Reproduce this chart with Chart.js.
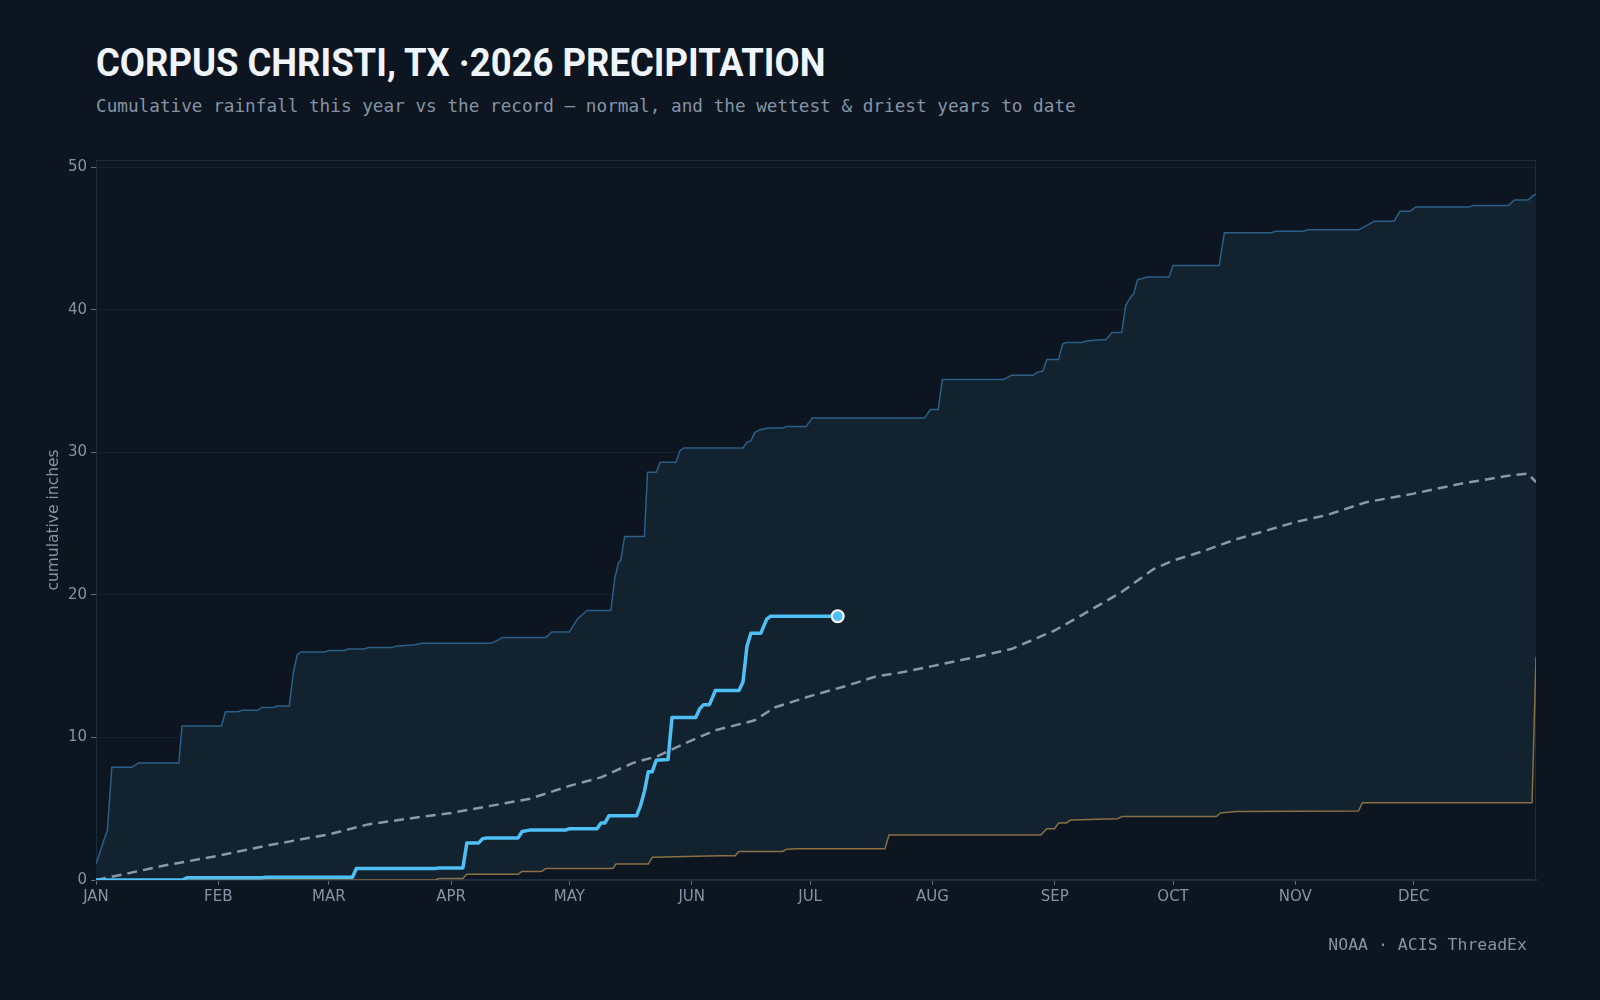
<!DOCTYPE html>
<html>
<head>
<meta charset="utf-8">
<title>Corpus Christi, TX 2026 precipitation</title>
<script src="https://cdn.jsdelivr.net/npm/chart.js@4"></script>
<style>
	body { margin: 0; background: #0c1520; }
	#wrap { position: relative; width: 1600px; height: 1000px; overflow: hidden; }
	#chart { position: absolute; left: 0; top: 0; }
	.title {
		position: absolute; left: 96px; top: 44px; margin: 0;
		font: 700 38px/38px Roboto, sans-serif; color: #eef4fa;
		white-space: nowrap; transform: scaleX(0.96); transform-origin: left top;
	}
	.subtitle {
		position: absolute; left: 96px; top: 98px; margin: 0;
		font: 17.7px/17.7px "DejaVu Sans Mono", monospace; color: #8494a6;
		white-space: nowrap;
	}
	.source {
		position: absolute; right: 73px; top: 937px;
		font: 16.5px/16.5px "DejaVu Sans Mono", monospace; color: #8494a6;
		white-space: nowrap;
	}
</style>
</head>
<body>
<div id="wrap">
	<h1 class="title">CORPUS CHRISTI, TX ·2026 PRECIPITATION</h1>
	<p class="subtitle">Cumulative rainfall this year vs the record — normal, and the wettest &amp; driest years to date</p>
	<canvas id="chart" width="1600" height="1000"></canvas>
	<div class="source">NOAA · ACIS ThreadEx</div>
</div>
<script>
// day of year (0 = Jan 1) and cumulative inches
const MONTHS = ["JAN", "FEB", "MAR", "APR", "MAY", "JUN", "JUL", "AUG", "SEP", "OCT", "NOV", "DEC"];
const MONTH_START = [0, 31, 59, 90, 120, 151, 181, 212, 243, 273, 304, 334];

// wettest year to date, per day
const WET_DAY = [0, 2, 2.9, 3.3, 4, 9, 10.7, 21, 21.8, 31.8, 32.8, 36, 37, 41, 42, 45, 46, 49, 50, 51, 52,
	58, 59, 63, 64, 68, 69, 75, 76, 81, 82.5, 100, 101, 103, 114, 115.5, 120, 122, 124.5, 130.5, 131.5,
	132.5, 133, 134, 139, 139.8, 142, 143, 147, 148, 149, 164, 165, 166, 167, 168.5, 170.5, 174, 175, 180,
	181.5, 210, 211.5, 213.5, 214.5, 230, 232, 237.5, 238.5, 240, 241, 244, 245, 246, 250, 251, 254.5, 256,
	257.5, 260, 261, 262.3, 263, 264, 266.5, 272, 273, 284.7, 286, 298, 299, 306, 307, 320, 322, 324, 329,
	330.5, 333, 334.5, 348, 349, 358, 359.5, 363, 364.3, 365];
const WET_IN = [1.1, 2.8, 3.5, 5.1, 7.9, 7.9, 8.2, 8.2, 10.8, 10.8, 11.8, 11.8, 11.9, 11.9, 12.1, 12.1, 12.2, 12.2, 14.5, 15.8, 16.0,
	16.0, 16.1, 16.1, 16.2, 16.2, 16.3, 16.3, 16.4, 16.5, 16.6, 16.6, 16.7, 17.0, 17.0, 17.4, 17.4, 18.3, 18.9, 18.9, 21.2,
	22.3, 22.4, 24.1, 24.1, 28.6, 28.6, 29.3, 29.3, 30.1, 30.3, 30.3, 30.7, 30.8, 31.4, 31.6, 31.7, 31.7, 31.8, 31.8,
	32.4, 32.4, 33.0, 33.0, 35.1, 35.1, 35.4, 35.4, 35.6, 35.7, 36.5, 36.5, 37.6, 37.7, 37.7, 37.8, 37.9, 37.9,
	38.4, 38.4, 40.3, 40.9, 41.1, 42.1, 42.3, 42.3, 43.1, 43.1, 45.4, 45.4, 45.5, 45.5, 45.6, 45.6, 45.9, 46.2, 46.2,
	46.9, 46.9, 47.2, 47.2, 47.3, 47.3, 47.7, 47.7, 48.0, 48.1];

// driest year to date
const DRY_DAY = [0, 86, 87, 93, 94, 107, 108, 113, 114, 131, 131.8, 140, 141, 158, 162, 163, 174, 175, 177.5,
	200, 201, 239.5, 241, 243, 244, 246, 247, 259, 260, 284, 285, 289, 320, 321, 364, 365];
const DRY_IN = [0, 0, 0.1, 0.1, 0.4, 0.4, 0.6, 0.6, 0.8, 0.8, 1.12, 1.12, 1.6, 1.7, 1.7, 2.0, 2.0, 2.15, 2.2,
	2.2, 3.15, 3.15, 3.6, 3.6, 4.0, 4.0, 4.2, 4.3, 4.45, 4.45, 4.7, 4.8, 4.84, 5.42, 5.42, 15.66];

// normal
const NORM_DAY = [0, 7, 17, 31, 43, 59, 69, 79, 90, 100, 110, 120, 128, 136, 142.5, 151, 157, 167, 172, 181,
	190, 198, 203, 212, 224, 232, 243, 250, 260, 268, 273, 281, 289, 304, 312, 322, 334, 346, 359, 363, 365];
const NORM_IN = [0, 0.4, 1.0, 1.7, 2.4, 3.2, 3.9, 4.3, 4.7, 5.2, 5.7, 6.6, 7.2, 8.2, 8.7, 9.8, 10.5, 11.2, 12.1, 12.9,
	13.6, 14.3, 14.5, 15.0, 15.7, 16.2, 17.5, 18.6, 20.2, 21.8, 22.4, 23.1, 23.9, 25.1, 25.6, 26.5, 27.1, 27.8, 28.4, 28.5, 27.9];

// 2026 so far
const CUR_DAY = [0, 22, 23, 42, 43, 65, 66, 86, 87, 93, 94, 97, 98, 99, 107, 108, 110, 119, 120, 127, 128, 129,
	130, 137, 138, 139, 140, 141, 142, 145, 146, 152, 153, 154, 155.5, 157, 163, 164, 165, 166, 168.5, 170, 171, 188];
const CUR_IN = [0, 0, 0.15, 0.15, 0.2, 0.2, 0.8, 0.8, 0.85, 0.85, 2.6, 2.6, 2.9, 2.95, 2.95, 3.4, 3.5, 3.5, 3.6, 3.6, 4.0, 4.0,
	4.5, 4.5, 5.2, 6.2, 7.6, 7.6, 8.4, 8.45, 11.4, 11.4, 12.0, 12.3, 12.3, 13.3, 13.3, 13.9, 16.4, 17.3, 17.3, 18.3, 18.5, 18.5];

const BAND = "#12222f";
const FRAME = "#1a2c3d";
const LABEL = "#8494a6";

function toPoints(days, values) {
	return days.map((d, i) => ({ x: d, y: values[i] }));
}

const frame = {
	id: "frame",
	beforeDatasetsDraw(chart) {
		const { ctx, chartArea: a } = chart;
		ctx.save();
		ctx.strokeStyle = FRAME;
		ctx.lineWidth = 1;
		ctx.strokeRect(a.left + 0.5, a.top + 0.5, a.right - a.left - 1, a.bottom - a.top);
		ctx.restore();
	},
};

const lastCur = CUR_DAY.length - 1;

new Chart(document.getElementById("chart"), {
	type: "line",
	data: {
		datasets: [
			{
				label: "wettest",
				data: toPoints(WET_DAY, WET_IN),
				borderColor: "#2c5f88",
				borderWidth: 1.5,
				backgroundColor: BAND,
				fill: 1,
				order: 3,
			},
			{
				label: "driest",
				data: toPoints(DRY_DAY, DRY_IN),
				borderColor: "#8a7043",
				borderWidth: 1.5,
				fill: false,
				order: 2,
			},
			{
				label: "normal",
				data: toPoints(NORM_DAY, NORM_IN),
				borderColor: "#8a99a8",
				borderWidth: 2.5,
				borderDash: [10, 6],
				fill: false,
				order: 1,
			},
			{
				label: "2026",
				data: toPoints(CUR_DAY, CUR_IN),
				borderColor: "#4fc0f5",
				borderWidth: 3.5,
				fill: false,
				order: 0,
				pointRadius: (c) => (c.dataIndex === lastCur ? 6 : 0),
				pointBackgroundColor: "#4fc0f5",
				pointBorderColor: "#ffffff",
				pointBorderWidth: 2,
			},
		],
	},
	options: {
		responsive: false,
		devicePixelRatio: 1,
		animation: false,
		elements: {
			line: { tension: 0, borderJoinStyle: "round" },
			point: { radius: 0, hoverRadius: 0 },
		},
		layout: { padding: { top: 160, right: 64, bottom: 80, left: 45 } },
		scales: {
			x: {
				type: "linear",
				min: 0,
				max: 365,
				afterBuildTicks: (scale) => {
					scale.ticks = MONTH_START.map((v) => ({ value: v }));
				},
				afterFit: (scale) => {
					scale.height = 40;
				},
				grid: { drawOnChartArea: false, tickLength: 5, tickColor: "#5c6d7e" },
				border: { color: "#1d3247", width: 2 },
				ticks: {
					autoSkip: false,
					maxRotation: 0,
					padding: 3,
					color: LABEL,
					font: { family: "DejaVu Sans", size: 15 },
					callback: (v, i) => MONTHS[i],
				},
			},
			y: {
				min: 0,
				max: 50.5,
				afterFit: (scale) => {
					scale.width = 51;
				},
				grid: { color: "#142230", tickLength: 5, tickColor: "#5c6d7e" },
				border: { color: FRAME },
				ticks: {
					stepSize: 10,
					includeBounds: false,
					padding: 4,
					color: LABEL,
					font: { family: "DejaVu Sans", size: 15 },
				},
				title: {
					display: true,
					text: "cumulative inches",
					color: LABEL,
					padding: 0,
					font: { family: "DejaVu Sans", size: 15.5 },
				},
			},
		},
		plugins: {
			legend: { display: false },
			tooltip: { enabled: false },
		},
	},
	plugins: [frame],
});
</script>
</body>
</html>
